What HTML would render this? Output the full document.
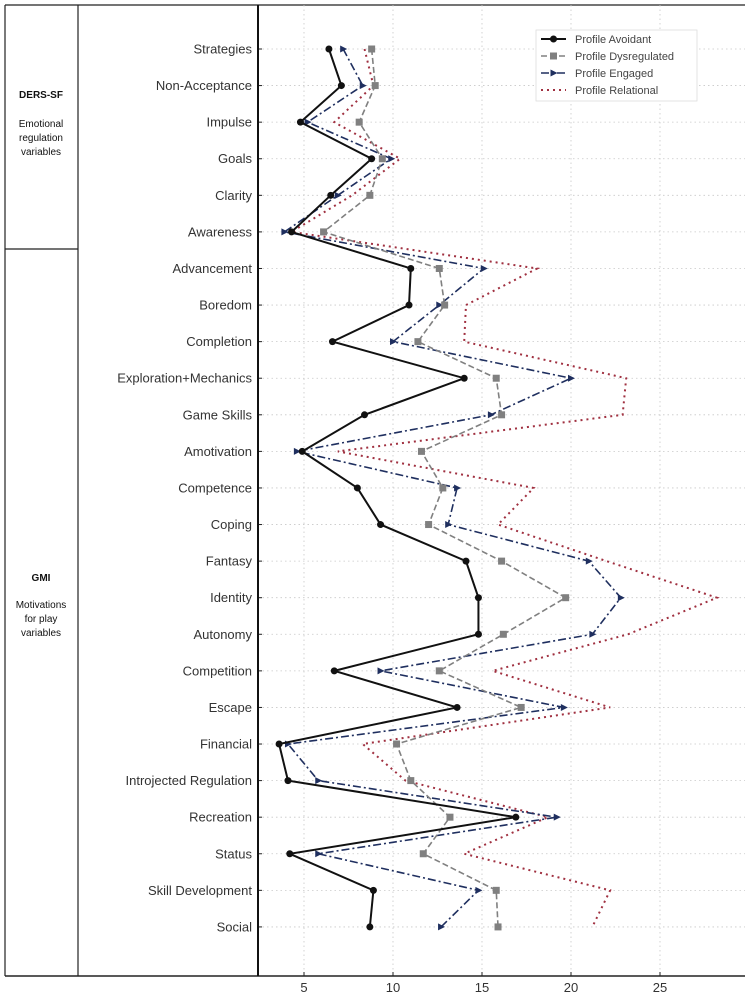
<!DOCTYPE html>
<html><head><meta charset="utf-8">
<style>
html,body{margin:0;padding:0;background:#fff;}
svg{display:block;font-family:"Liberation Sans","DejaVu Sans",sans-serif;}
</style></head>
<body>
<svg id="chart" width="745" height="995" viewBox="0 0 745 995" xmlns="http://www.w3.org/2000/svg">
  <g>
    <line x1="5" y1="5" x2="745" y2="5" stroke="#222" stroke-width="1.2"/>
    <line x1="5" y1="5" x2="5" y2="976" stroke="#222" stroke-width="1.2"/>
    <line x1="78" y1="5" x2="78" y2="976" stroke="#222" stroke-width="1.2"/>
    <line x1="5" y1="249" x2="78" y2="249" stroke="#222" stroke-width="1.2"/>
    <g font-size="10" fill="#111" text-anchor="middle">
      <text x="41" y="98" font-weight="bold">DERS-SF</text>
      <text x="41" y="127">Emotional</text>
      <text x="41" y="141">regulation</text>
      <text x="41" y="155">variables</text>
    </g>
    <g font-size="10" fill="#111" text-anchor="middle">
      <text x="41" y="581" font-weight="bold">GMI</text>
      <text x="41" y="608">Motivations</text>
      <text x="41" y="622">for play</text>
      <text x="41" y="636">variables</text>
    </g>
  </g>
  <g id="grid"></g>
  <g id="ylabels"></g>
  <g id="xaxis"></g>
  <g id="series"></g>
  <line x1="5" y1="976" x2="745" y2="976" stroke="#222" stroke-width="1.5"/>
  <line x1="258" y1="5" x2="258" y2="976" stroke="#111" stroke-width="2"/>
  <g id="legend"></g>
</svg>
<script>
const categories = ["Strategies","Non-Acceptance","Impulse","Goals","Clarity","Awareness","Advancement","Boredom","Completion","Exploration+Mechanics","Game Skills","Amotivation","Competence","Coping","Fantasy","Identity","Autonomy","Competition","Escape","Financial","Introjected Regulation","Recreation","Status","Skill Development","Social"];
const avoidant = [6.4,7.1,4.8,8.8,6.5,4.3,11.0,10.9,6.6,14.0,8.4,4.9,8.0,9.3,14.1,14.8,14.8,6.7,13.6,3.6,4.1,16.9,4.2,8.9,8.7];
const dysregulated = [8.8,9.0,8.1,9.4,8.7,6.1,12.6,12.9,11.4,15.8,16.1,11.6,12.8,12.0,16.1,19.7,16.2,12.6,17.2,10.2,11.0,13.2,11.7,15.8,15.9];
const engaged = [7.2,8.3,5.2,9.9,6.9,3.9,15.1,12.6,10.0,20.0,15.5,4.6,13.6,13.1,21.0,22.8,21.2,9.3,19.6,4.1,5.8,19.2,5.8,14.8,12.7];
const relational = [8.4,8.9,6.7,10.4,7.7,4.3,18.1,14.1,14.0,23.1,22.9,6.9,17.9,15.9,22.0,28.2,23.2,15.6,22.2,8.3,10.7,18.7,14.0,22.2,21.2];
const xTicks = [5,10,15,20,25];
const seriesNames = ["Profile Avoidant","Profile Dysregulated","Profile Engaged","Profile Relational"];

const NS="http://www.w3.org/2000/svg";
function xs(v){return 304+(v-5)*17.8;}
function ys(i){return 49+i*36.58;}
function mk(tag,attrs,parent){const e=document.createElementNS(NS,tag);for(const k in attrs)e.setAttribute(k,attrs[k]);parent.appendChild(e);return e;}

const grid=document.getElementById('grid');
xTicks.forEach(t=>{
  const l=mk('line',{x1:xs(t),y1:5,x2:xs(t),y2:976,stroke:'#c8c8c8','stroke-width':0.8,'stroke-dasharray':'1.5,3'},grid);
  
  
});
categories.forEach((c,i)=>{
  const l=mk('line',{x1:258,y1:ys(i),x2:745,y2:ys(i),stroke:'#c8c8c8','stroke-width':0.8,'stroke-dasharray':'1.5,3'},grid);
  
  
});
const yl=document.getElementById('ylabels');
categories.forEach((c,i)=>{
  const t=mk('text',{x:252,y:ys(i)+4.5,'text-anchor':'end','font-size':13,fill:'#333'},yl);
  t.textContent=c;
  
  
  const tk=mk('line',{x1:258,y1:ys(i),x2:262,y2:ys(i),stroke:'#222','stroke-width':1},yl);
  
  
});
const xa=document.getElementById('xaxis');
xTicks.forEach(t=>{
  const tk=mk('line',{x1:xs(t),y1:972,x2:xs(t),y2:976,stroke:'#222','stroke-width':1},xa);
  
  
  const tx=mk('text',{x:xs(t),y:992,'text-anchor':'middle','font-size':13,fill:'#333'},xa);
  tx.textContent=t;
  
  
});

const styles=[
  {data:avoidant,color:'#111',dash:'',w:2,marker:'circle',name:'series-avoidant'},
  {data:dysregulated,color:'#808080',dash:'6,3',w:1.6,marker:'square',name:'series-dysregulated'},
  {data:engaged,color:'#1f2f5f',dash:'8,3,2,3',w:1.6,marker:'triangle',name:'series-engaged'},
  {data:relational,color:'#a03040',dash:'2,4',w:2,marker:'none',name:'series-relational'}
];
const sg=document.getElementById('series');
function marker(type,x,y,color,parent){
  let m=null;
  if(type==='circle') m=mk('circle',{cx:x,cy:y,r:3.5,fill:color},parent);
  else if(type==='square') m=mk('rect',{x:x-3.5,y:y-3.5,width:7,height:7,fill:color},parent);
  else if(type==='triangle') m=mk('path',{d:`M${x+4},${y} L${x-3},${y-3.5} L${x-3},${y+3.5} Z`,fill:color},parent);
  return m;
}
[3,2,1,0].forEach(si=>{
  const s=styles[si];
  const g=mk('g',{},sg);
  
  
  const pts=s.data.map((v,i)=>xs(v)+','+ys(i)).join(' ');
  const pl=mk('polyline',{points:pts,fill:'none',stroke:s.color,'stroke-width':s.w,'stroke-dasharray':s.dash},g);
  
  
  s.data.forEach((v,i)=>{
    const m=marker(s.marker,xs(v),ys(i),s.color,g);
    if(m){
      
      
    }
  });
});

const lg=document.getElementById('legend');
mk('rect',{x:536,y:30,width:161,height:71,fill:'#fff',stroke:'#ddd','stroke-width':0.8},lg);
seriesNames.forEach((n,i)=>{
  const s=styles[i];const y=39+i*17;
  const e=mk('g',{},lg);
  
  
  mk('line',{x1:541,y1:y,x2:566,y2:y,stroke:s.color,'stroke-width':s.w,'stroke-dasharray':s.dash},e);
  marker(s.marker,553.5,y,s.color,e);
  const t=mk('text',{x:575,y:y+4,'font-size':11,fill:'#444'},e);
  t.textContent=n;
});
</script>
</body></html>
